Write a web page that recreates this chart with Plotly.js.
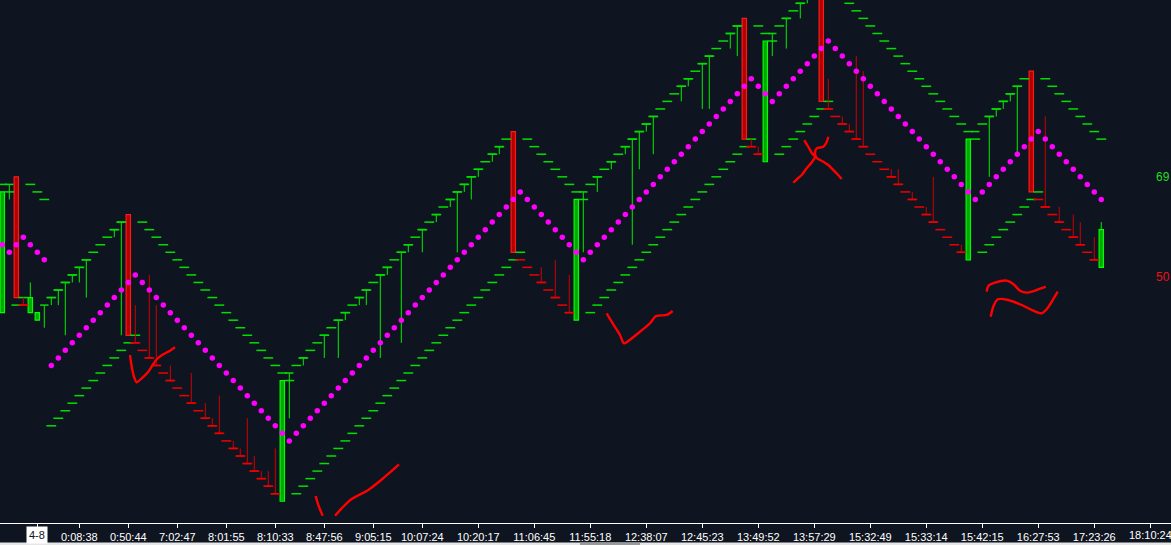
<!DOCTYPE html>
<html>
<head>
<meta charset="utf-8">
<script src="https://cdn.plot.ly/plotly-3.0.1.min.js"></script>
<style>
  html, body { margin: 0; padding: 0; background: #0f1520; overflow: hidden; }
  #chart { width: 1171px; height: 545px; }
</style>
</head>
<body>
<div id="chart"></div>
<script>
// ---- data (price levels, one entry per bar 0..157) ----
const midLine = [68,67,68,69,68,67,66,
  52,53,54,55,56,57,58,59,60,61,62,63,64,
  63,62,61,60,59,58,57,56,55,54,53,52,51,50,49,48,47,46,45,44,43,42,
  43,44,45,46,47,48,49,50,51,52,53,54,55,56,57,58,59,60,61,62,63,64,65,66,67,68,69,70,71,72,73,74,75,
  74,73,72,71,70,69,68,67,66,
  67,68,69,70,71,72,73,74,75,76,77,78,79,80,81,82,83,84,85,86,87,88,89,90,
  89,88,87,
  88,89,90,91,92,93,94,95,
  94,93,92,91,90,89,88,87,86,85,84,83,82,81,80,79,78,77,76,75,74,
  75,76,77,78,79,80,81,82,83,
  82,81,80,79,78,77,76,75,74];

const upperBand = [76,75,null,null,76,75,74,
  61,62,63,64,65,66,67,68,69,70,71,
  null,null,
  71,70,69,68,67,66,65,64,63,62,61,60,59,58,57,56,55,54,53,52,51,50,
  52,53,54,55,56,57,58,59,60,61,62,63,64,65,66,67,68,69,70,71,72,73,74,75,76,77,78,79,80,81,82,
  null,null,
  82,81,80,79,78,77,76,75,74,
  76,77,78,79,80,81,82,83,84,85,86,87,88,89,90,91,92,93,94,95,96,97,
  null,null,
  97,96,95,
  97,98,99,100,101,
  null,null,null,null,null,
  100,99,98,97,96,95,94,93,92,91,90,89,88,87,86,85,84,83,82,
  84,85,86,87,88,89,90,
  null,null,
  90,89,88,87,86,85,84,83,82];

const lowerGreen = [null,null,60,61,null,null,null,
  44,45,46,47,48,49,50,51,52,53,54,55,56,
  null,null,null,null,null,null,null,null,null,null,null,null,null,null,null,null,null,null,null,null,null,null,
  35,36,37,38,39,40,41,42,43,44,45,46,47,48,49,50,51,52,53,54,55,56,57,58,59,60,61,62,63,64,65,66,67,
  null,null,null,null,null,null,null,null,null,
  59,60,61,62,63,64,65,66,67,68,69,70,71,72,73,74,75,76,77,78,79,80,81,82,
  null,null,null,
  80,81,82,83,84,85,86,87,
  null,null,null,null,null,null,null,null,null,null,null,null,null,null,null,null,null,null,null,null,null,
  67,68,69,70,71,72,73,74,75,
  null,null,null,null,null,null,null,null,null];

const lowerRed = [null,null,null,60,
  null,null,null,null,null,null,null,null,null,null,null,null,null,null,null,
  55,54,53,52,51,50,49,48,47,46,45,44,43,42,41,40,39,38,37,36,35,
  null,null,null,null,null,null,null,null,null,null,null,null,null,null,null,null,null,
  null,null,null,null,null,null,null,null,null,null,null,null,null,null,null,null,null,
  66,65,64,63,62,61,60,59,
  null,null,null,null,null,null,null,null,null,null,null,null,null,null,null,null,null,null,null,null,null,null,null,null,null,
  81,80,
  null,null,null,null,null,null,null,null,null,
  86,85,84,83,82,81,80,79,78,77,76,75,74,73,72,71,70,69,68,67,
  null,null,null,null,null,null,null,null,null,null,
  74,73,72,71,70,69,68,67,66,
  null];

// up bars: vertical range with a tick on top
const upBarX  = [1,6,7,8,9,10,11,12,16,17,41,43,46,48,49,51,52,54,55,57,58,60,62,64,65,66,67,68,70,71,83,85,87,89,90,91,92,93,97,98,100,101,104,105,110,112,114,115,139,141,142,143,144,145];
const upBarHi = [76,60,61,62,63,64,65,66,70,71,51,53,56,58,59,61,62,64,65,67,68,70,72,74,75,76,77,78,80,81,75,77,79,81,82,83,84,85,89,90,92,93,96,97,96,98,100,101,83,85,86,87,88,89];
const upBarLo = [74,57,60,60,56,63,63,61,69,56,45,52,53,53,58,60,60,53,64,55,67,67,71,73,67,75,74,77,79,80,67,75,78,80,68,78,83,80,87,89,86,86,94,93,93,94,98,100,83,77,85,86,87,80];

// down bars: vertical range with a tick at the bottom
const dnBarX  = [3,19,21,22,24,27,29,30,31,33,34,35,36,37,38,39,77,79,81,107,108,118,120,121,122,123,127,128,130,132,133,137,149,151,153,154,156];
const dnBarHi = [61,60,64,60,52,51,47,45,48,42,41,45,40,38,38,41,65,66,64,82,81,90,85,84,93,91,78,78,75,73,77,68,85,73,72,71,69];
const dnBarLo = [60,55,53,52,50,47,45,44,43,41,40,39,38,37,36,35,63,61,59,81,80,86,84,83,82,81,77,76,74,72,71,67,73,71,69,68,66];

// candle bodies
const candleX     = [0,2,4,5,18,40,73,82,106,109,117,138,147,157];
const candleOpen  = [59,77,59,58,72,34,83,58,98,79,103,66,91,65];
const candleClose = [75,61,61,59,56,50,67,74,82,95,87,82,75,70];
const candleHigh  = [75,77,63,59,72,50,83,74,98,95,103,82,91,71];
const candleLow   = [59,61,59,58,56,34,67,58,82,79,87,66,75,65];

// time axis
const tickBars   = [5,11,18,25,32,39,46,53,60,68,76,84,92,100,108,116,124,132,140,148,156,164];
const tickLabels = ["4-8","0:08:38","0:50:44","7:02:47","8:01:55","8:10:33","8:47:56","9:05:15","10:07:24","10:20:17","11:06:45","11:55:18","12:38:07","12:45:23","13:49:52","13:57:29","15:32:49","15:33:14","15:42:15","16:27:53","17:23:26","18:10:24"];

// hand-drawn red pen strokes (bar index, price)
const penStrokes = [
  [[18.24,53.39],[18.49,51.84],[18.81,50.51],[19.2,49.77],[19.91,50.30],[20.86,51.17],[21.57,52.19],[22.06,52.82],[23.0,53.48],[23.96,53.96],[24.67,54.41]],
  [[44.77,34.70],[45.14,33.51],[45.77,32.09]],
  [[47.53,32.09],[48.49,33.07],[49.91,34.30],[52.29,35.50],[53.96,36.69],[55.39,37.84],[56.67,38.90]],
  [[86.34,58.91],[87.29,57.45],[88.24,56.04],[88.81,54.93],[89.43,55.24],[91.1,56.47],[92.53,57.59],[93.39,58.56],[94.91,58.69],[95.77,59.22]],
  [[114.57,81.88],[115.14,80.99],[115.67,80.12],[116.1,79.63],[115.67,78.97],[114.91,78.13],[114.2,77.24],[113.53,76.71],[113.0,76.22]],
  [[118.0,82.32],[117.77,81.62],[117.29,80.99],[116.34,80.78],[116.1,80.12],[116.34,79.50],[117.29,79.01],[118.0,78.57],[118.71,77.91],[119.31,77.34],[119.91,76.71]],
  [[140.63,61.78],[140.86,62.53],[141.81,62.97],[143.49,63.24],[144.43,62.80],[145.39,61.91],[146.34,61.65],[147.77,62.00],[149.06,62.44]],
  [[141.2,58.46],[141.57,59.79],[142.2,60.77],[143.71,60.68],[145.63,60.01],[147.29,59.26],[148.49,58.91],[149.2,59.44],[150.77,61.78]]
];

const priceLabels = [{text: "69", level: 77.0, color: "#22dd22"}, {text: "50", level: 63.7, color: "#ee1111"}];

// ---- styling ----
const BG = "#0f1520";
const GREEN = "#00e000";
const GREEN_LINE = "#00ee00";
const RED = "#ee0000";
const RED_LINE = "#cc0000";
const MAGENTA = "#ff00ff";
const AXIS_FONT = "Liberation Sans, Arial, sans-serif";

const idx = midLine.map((_, i) => i);
const traces = [];

function dashTrace(y, color, size) {
  return {type: "scatter", mode: "markers", x: idx, y: y, hoverinfo: "skip",
    marker: {symbol: "line-ew", size: size, color: color, line: {color: color, width: 1.5}}, cliponaxis: true};
}
function segTrace(xs, his, los, color) {
  const X = [], Y = [];
  xs.forEach((x, i) => { X.push(x, x, null); Y.push(his[i], los[i], null); });
  return {type: "scatter", mode: "lines", x: X, y: Y, hoverinfo: "skip", line: {color: color, width: 1}};
}

traces.push(dashTrace(upperBand, GREEN, 7));
traces.push(dashTrace(lowerGreen, GREEN, 7));
traces.push(dashTrace(lowerRed, RED, 7));

traces.push(segTrace(upBarX, upBarHi, upBarLo, GREEN_LINE));
traces.push({type: "scatter", mode: "markers", x: upBarX, y: upBarHi, hoverinfo: "skip",
  marker: {symbol: "line-ew", size: 6, color: GREEN, line: {color: GREEN, width: 1.5}}});
traces.push(segTrace(dnBarX, dnBarHi, dnBarLo, RED_LINE));
traces.push({type: "scatter", mode: "markers", x: dnBarX, y: dnBarLo, hoverinfo: "skip",
  marker: {symbol: "line-ew", size: 6, color: RED, line: {color: RED, width: 1.5}}});

// candle wicks above bodies
const cwX = [], cwY = [];
candleX.forEach((x, i) => {
  const top = Math.max(candleOpen[i], candleClose[i]);
  if (candleHigh[i] > top) { cwX.push(x, x, null); cwY.push(candleHigh[i], top, null); }
});
traces.push({type: "scatter", mode: "lines", x: cwX, y: cwY, hoverinfo: "skip", line: {color: GREEN_LINE, width: 1}});

// candle bodies
function bodyTrace(up) {
  const xs = [], base = [], h = [];
  candleX.forEach((x, i) => {
    const isUp = candleClose[i] >= candleOpen[i];
    if (isUp === up) {
      xs.push(x);
      base.push(Math.min(candleOpen[i], candleClose[i]));
      h.push(Math.abs(candleClose[i] - candleOpen[i]));
    }
  });
  return {type: "bar", x: xs, y: h, base: base, width: 0.62, hoverinfo: "skip",
    marker: {color: up ? "#00a800" : "#b00000", line: {color: up ? "#00ff00" : "#ff1a1a", width: 1.2}}};
}
traces.push(bodyTrace(true));
traces.push(bodyTrace(false));

// magenta dotted mid line
traces.push({type: "scatter", mode: "markers", x: idx, y: midLine, hoverinfo: "skip",
  marker: {symbol: "circle", size: 5.5, color: MAGENTA, line: {width: 0}}});

// pen strokes
penStrokes.forEach(s => {
  traces.push({type: "scatter", mode: "lines", x: s.map(p => p[0]), y: s.map(p => p[1]), hoverinfo: "skip",
    line: {color: "#ff0000", width: 2.4, shape: "spline", smoothing: 0.8}});
});

const Y0 = 31.12, Y1 = 100.437;
const plotH = 523;
const lastTick = tickBars.length - 1;
const annotations = [{
  x: tickBars[0], xref: "x", y: -12 / plotH, yref: "paper", yanchor: "middle", xanchor: "center",
  text: tickLabels[0], showarrow: false, bgcolor: "#ffffff", borderpad: 2,
  font: {family: AXIS_FONT, size: 11, color: "#0f1520"}
}, {
  x: tickBars[lastTick], xref: "x", y: -12 / plotH, yref: "paper", yanchor: "middle", xanchor: "center",
  text: tickLabels[lastTick], showarrow: false,
  font: {family: AXIS_FONT, size: 11, color: "#ffffff"}
}];
priceLabels.forEach(l => {
  annotations.push({x: 1171 / 1171, xref: "paper", y: l.level, yref: "y", xanchor: "right", yanchor: "middle",
    text: l.text, showarrow: false, borderpad: 0,
    font: {family: "Liberation Sans Narrow, Liberation Sans, Arial, sans-serif", size: 12, color: l.color}});
});

const layout = {
  width: 1171, height: 545,
  margin: {l: 0, r: 0, t: 0, b: 22, pad: 0},
  paper_bgcolor: BG, plot_bgcolor: BG,
  showlegend: false,
  barmode: "overlay",
  xaxis: {
    type: "linear", range: [-0.329, 166.96], showgrid: false, zeroline: false,
    showline: true, linecolor: "#ffffff", linewidth: 1,
    tickmode: "array", tickvals: tickBars,
    ticktext: tickLabels.map((t, i) => (i === 0 || i === lastTick) ? "" : t),
    ticks: "outside", ticklen: 4, tickcolor: "#ffffff", tickwidth: 1,
    tickfont: {family: AXIS_FONT, size: 11, color: "#ffffff"},
    fixedrange: true
  },
  yaxis: {range: [Y0, Y1], visible: false, showgrid: false, zeroline: false, fixedrange: true},
  annotations: annotations,
  shapes: [
    {type: "rect", xref: "paper", yref: "paper", x0: 0, x1: 1, y0: -22 / plotH, y1: -19.5 / plotH,
      fillcolor: "#e6e6e6", line: {width: 0}, layer: "above"},
    {type: "rect", xref: "paper", yref: "paper", x0: 580 / 1171, x1: 640 / 1171, y0: -22 / plotH, y1: -19.5 / plotH,
      fillcolor: "#9a9a9a", line: {width: 0}, layer: "above"}
  ]
};

Plotly.newPlot("chart", traces, layout, {staticPlot: true, displayModeBar: false});
</script>
</body>
</html>
